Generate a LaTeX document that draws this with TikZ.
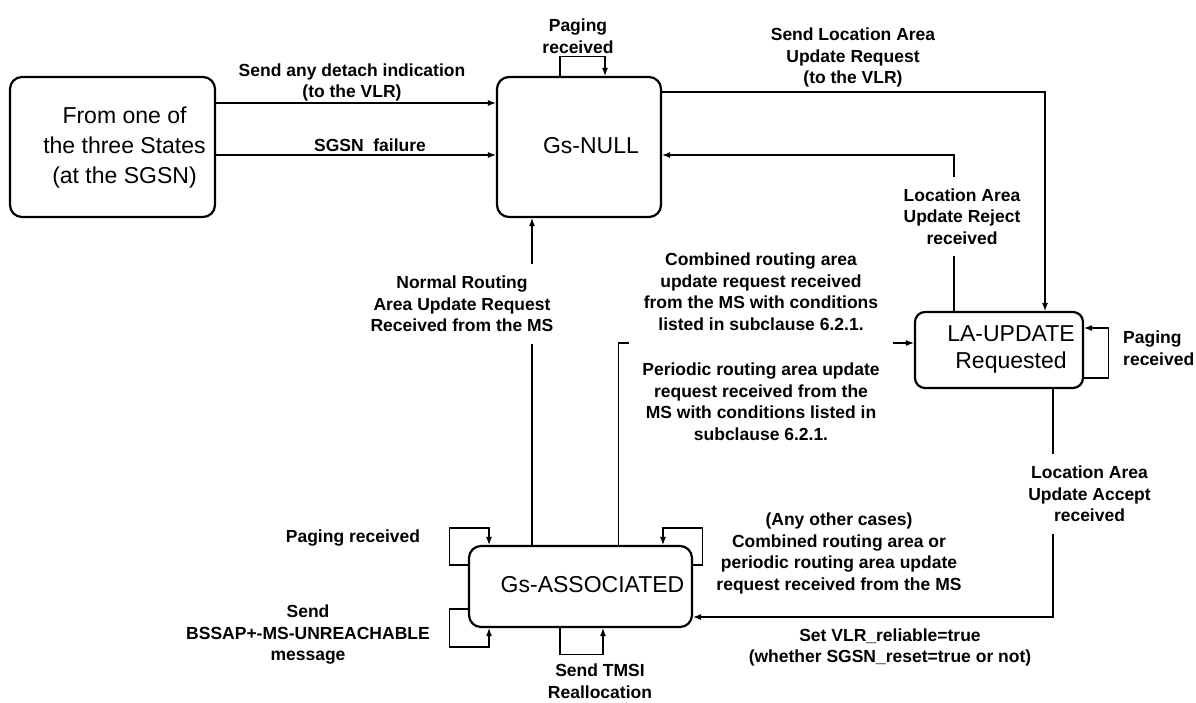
\documentclass[tikz,border=0pt]{standalone}
\usepackage{fontspec}
\setmainfont{Liberation Sans}
\usetikzlibrary{shapes,arrows.meta}
\newcommand{\boxtext}[1]{\hspace*{24pt}\begin{tabular}{@{}c@{}}#1\end{tabular}}
\tikzset{
  statebox/.style = {draw, rounded corners=12pt, line width=2.2pt, inner sep=0pt,
                     font=\fontsize{23}{30}\selectfont},
  trans/.style    = {->, line width=1.1pt},
  >={Latex[length=8pt,width=6pt]},
  lbl/.style      = {font=\bfseries\fontsize{17.5}{21.5}\selectfont, align=center, inner sep=0pt},
  cover/.style    = {lbl, fill=white, inner xsep=4pt, inner ysep=12pt}
}

\begin{document}
\begin{tikzpicture}[x=1pt,y=-1pt]
	\useasboundingbox (0,0) rectangle (1196,702);
	\node[statebox, minimum width=205pt, minimum height=140pt] (from) at (112.5,147)
		{\boxtext{From one of\\the three States\\(at the SGSN)}};
	\node[statebox, minimum width=164pt, minimum height=140pt] (gsn) at (579,147)
		{\boxtext{Gs-NULL}};
	\node[statebox, minimum width=168pt, minimum height=76pt, rounded corners=10pt,
		font=\fontsize{23}{27}\selectfont] (la) at (999,350)
		{\boxtext{LA-UPDATE\\Requested}};
	\node[statebox, minimum width=223pt, minimum height=81pt] (gsa) at (580.5,586.5)
		{\boxtext{Gs-ASSOCIATED}};
	% transitions
	\draw[trans] (from.east |- 0,103) -- (gsn.west |- 0,103);
	\draw[trans] (from.east |- 0,155) -- (gsn.west |- 0,155);
	\draw[trans] ([xshift=-19pt]gsn.north) -- ++(0,-19) -| ([xshift=26pt]gsn.north);
	\draw[trans] (gsn.east |- 0,92) -| ([xshift=46pt]la.north);
	\draw[trans] ([xshift=-45pt]la.north) |- (gsn.east |- 0,155);
	\draw[trans] ([xshift=-48.5pt]gsa.north) -- ([xshift=-48.5pt]gsa.north |- gsn.south);
	\draw[trans] ([xshift=38pt]gsa.north) |- (la.west |- 0,343);
	\draw[trans] ([yshift=-28pt]la.east) -- ++(24,0) |- ([yshift=22pt]la.east);
	\draw[trans] ([xshift=54pt]la.south) |- (gsa.east |- 0,617);
	\draw[trans] ([yshift=21.5pt]gsa.west) -| ++(-18,-37) -| ([xshift=-91.5pt]gsa.north);
	\draw[trans] ([yshift=-22.5pt]gsa.west) -| ++(-18,38) -| ([xshift=-91.5pt]gsa.south);
	\draw[trans] ([xshift=-20.5pt]gsa.south) -- ++(0,26) -| ([xshift=22.5pt]gsa.south);
	\draw[trans] ([yshift=21.5pt]gsa.east) -| ++(9,-37) -| ([xshift=82.5pt]gsa.north);
	% labels
	\node[lbl] (detach) at (352,82.5) {Send any detach indication\\(to the VLR)};
	\node[lbl] (fail) at (370,145) {SGSN\ \ failure};
	\node[lbl] (pgnull) at (578,36) {Paging\\received};
	\node[lbl] (sendla) at (853,57.5) {Send Location Area\\Update Request\\(to the VLR)};
	\node[cover] (reject) at (962,216.5) {Location Area\\Update Reject\\received};
	\node[cover] (normal) at (462,304) {Normal Routing\\Area Update Request\\Received from the MS};
	\node[cover, inner xsep=13pt] (combined) at (761,346.5) {Combined routing area\\update request received\\from the MS with conditions\\listed in subclause 6.2.1.\\[24pt]Periodic routing area update\\request received from the\\MS with conditions listed in\\subclause 6.2.1.};
	\node[lbl, align=left, anchor=west] (pgla) at (1123,348) {Paging\\received};
	\node[cover] (accept) at (1089.5,494) {Location Area\\Update Accept\\received};
	\node[lbl] (anyother) at (839,553.5) {(Any other cases)\\Combined routing area or\\periodic routing area update\\request received from the MS};
	\node[lbl] (setvlr) at (890,647.5) {Set VLR\_reliable=true\\(whether SGSN\_reset=true or not)};
	\node[lbl] (pgasso) at (353,538) {Paging received};
	\node[lbl] (bssap) at (308,635) {Send\\BSSAP+-MS-UNREACHABLE\\message};
	\node[lbl] (tmsi) at (600,681) {Send TMSI\\Reallocation};
\end{tikzpicture}
\end{document}
